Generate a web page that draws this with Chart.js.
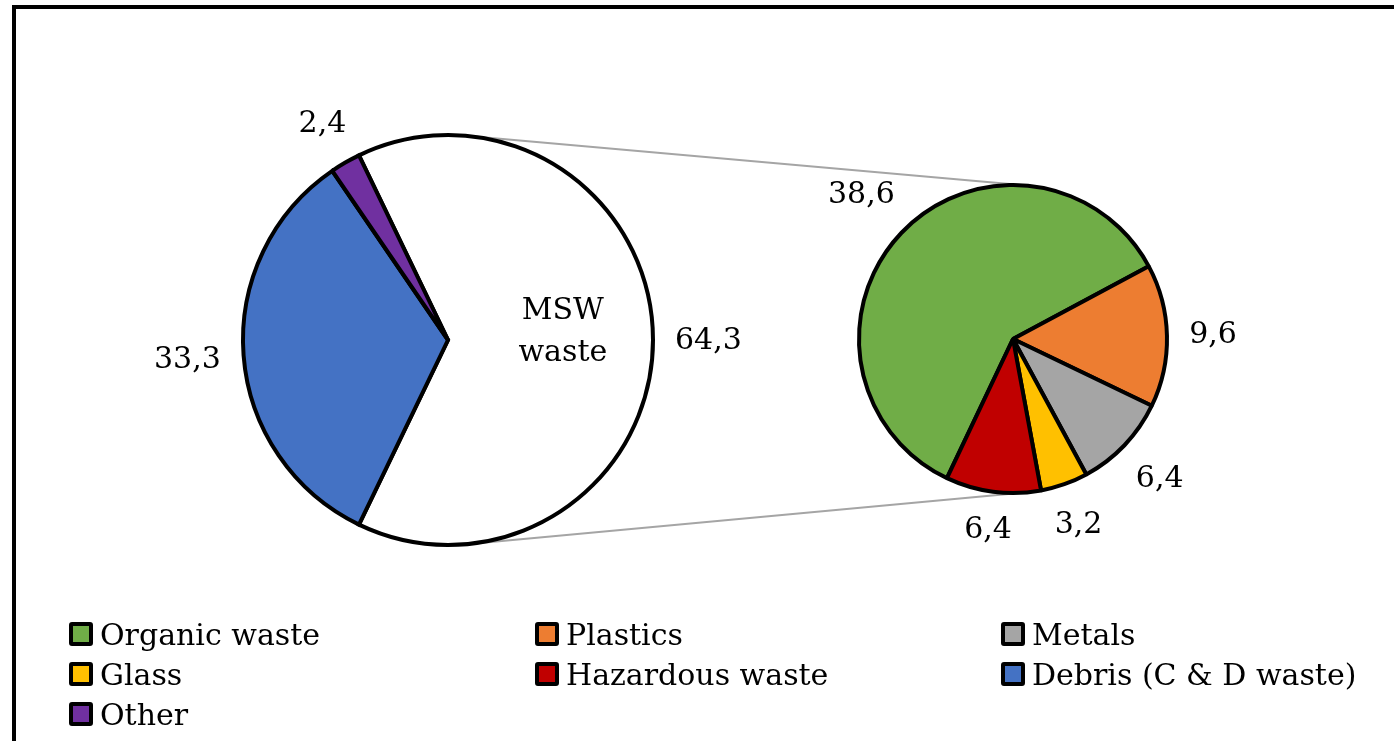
<!DOCTYPE html>
<html>
<head>
<meta charset="utf-8">
<script src="https://cdn.jsdelivr.net/npm/chart.js@4"></script>
<style>
    body { margin: 0; width: 1394px; height: 741px; overflow: hidden; position: relative; background: #fff; font-family: "DejaVu Serif", serif; }
    .frame { position: absolute; left: 12px; top: 5px; width: 1500px; height: 900px; border: 4px solid #000; }
    canvas { position: absolute; left: 0; top: 0; }
    #legend { position: absolute; left: 69px; top: 614px; display: grid; grid-template-columns: repeat(3, 466px); grid-auto-rows: 40px; font-size: 30px; color: #000; }
    #legend .item { display: flex; align-items: center; white-space: nowrap; }
    #legend .box { width: 16px; height: 16px; border: 4px solid #000; border-radius: 3px; margin-right: 7px; }
</style>
</head>
<body>
<div class="frame"></div>
<canvas id="mainPie" width="1394" height="741"></canvas>
<canvas id="mswPie" width="1394" height="741"></canvas>
<div id="legend"></div>
<script>
var mainLabels = ["MSW waste", "Debris (C & D waste)", "Other"];
var mainValues = [64.3, 33.3, 2.4];
var mainColors = ["#ffffff", "#4472c4", "#7030a0"];

var mswLabels = ["Organic waste", "Plastics", "Metals", "Glass", "Hazardous waste"];
var mswValues = [38.6, 9.6, 6.4, 3.2, 6.4];
var mswColors = ["#70ad47", "#ed7d31", "#a5a5a5", "#ffc000", "#c00000"];

var legendLabels = mswLabels.concat(mainLabels.slice(1));
var legendColors = mswColors.concat(mainColors.slice(1));

var FONT = '30px "DejaVu Serif"';
var W = 1394, H = 741, BW = 4;

function fmt(v) {
    return v.toFixed(1).replace('.', ',');
}

// padding so that the pie lands on a given centre / radius
function piePadding(cx, cy, r) {
    return {
        left: cx - r - BW / 2,
        right: W - (cx + r + BW / 2),
        top: cy - r - BW / 2,
        bottom: H - (cy + r + BW / 2)
    };
}

var valueLabels = {
    id: 'valueLabels',
    afterDatasetsDraw: function(chart, args, opts) {
        var ctx = chart.ctx;
        var meta = chart.getDatasetMeta(0);
        var values = chart.data.datasets[0].data;
        ctx.save();
        ctx.font = FONT;
        ctx.fillStyle = '#000';
        ctx.textAlign = 'center';
        ctx.textBaseline = 'alphabetic';
        meta.data.forEach(function(arc, i) {
            var mid = (arc.startAngle + arc.endAngle) / 2;
            var text = fmt(values[i]);
            var m = ctx.measureText(text);
            var h = m.actualBoundingBoxAscent + m.actualBoundingBoxDescent;
            var ext = Math.abs(Math.cos(mid)) * m.width / 2 + Math.abs(Math.sin(mid)) * h / 2;
            var d = arc.outerRadius + 22 + ext;
            var x = arc.x + Math.cos(mid) * d;
            var y = arc.y + Math.sin(mid) * d;
            ctx.fillText(text, x, y + (m.actualBoundingBoxAscent - m.actualBoundingBoxDescent) / 2);
        });
        if (opts.innerName) {
            var a = meta.data[0];
            var mid = (a.startAngle + a.endAngle) / 2;
            var px = a.x + Math.cos(mid) * a.outerRadius * 0.56;
            var py = a.y + Math.sin(mid) * a.outerRadius * 0.56;
            var words = chart.data.labels[0].split(' ');
            ctx.fillText(words[0], px, py - 21);
            ctx.fillText(words[1], px, py + 21);
        }
        ctx.restore();
    }
};

var mswChart = new Chart("mswPie", {
    type: "pie",
    data: {
        labels: mswLabels,
        datasets: [{
            data: mswValues,
            backgroundColor: mswColors,
            borderColor: "#000",
            borderWidth: BW,
            borderJoinStyle: "bevel",
            hoverOffset: 0
        }]
    },
    options: {
        responsive: false,
        animation: false,
        events: [],
        rotation: 205.4,
        layout: { padding: piePadding(1013, 339, 154) },
        plugins: {
            legend: { display: false },
            tooltip: { enabled: false },
            valueLabels: { innerName: false }
        }
    },
    plugins: [valueLabels]
});

// grey lines joining the two pies (outer tangents)
var connectors = {
    id: 'connectors',
    beforeDatasetsDraw: function(chart) {
        var a = chart.getDatasetMeta(0).data[0];
        var b = mswChart.getDatasetMeta(0).data[0];
        var dx = b.x - a.x, dy = b.y - a.y;
        var d = Math.sqrt(dx * dx + dy * dy);
        var ux = dx / d, uy = dy / d;
        var c = (a.outerRadius - b.outerRadius) / d;
        var s = Math.sqrt(1 - c * c);
        var ctx = chart.ctx;
        ctx.save();
        ctx.strokeStyle = '#a5a5a5';
        ctx.lineWidth = 2;
        [-1, 1].forEach(function(sign) {
            var nx = ux * c - uy * s * sign;
            var ny = uy * c + ux * s * sign;
            ctx.beginPath();
            ctx.moveTo(a.x + nx * a.outerRadius, a.y + ny * a.outerRadius);
            ctx.lineTo(b.x + nx * b.outerRadius, b.y + ny * b.outerRadius);
            ctx.stroke();
        });
        ctx.restore();
    }
};

var mainTotal = mainValues.reduce(function(s, v) { return s + v; }, 0);

new Chart("mainPie", {
    type: "pie",
    data: {
        labels: mainLabels,
        datasets: [{
            data: mainValues,
            backgroundColor: mainColors,
            borderColor: "#000",
            borderWidth: BW,
            borderJoinStyle: "miter",
            hoverOffset: 0
        }]
    },
    options: {
        responsive: false,
        animation: false,
        events: [],
        // first slice centred on the right side
        rotation: 90 - mainValues[0] / mainTotal * 180,
        layout: { padding: piePadding(448, 340, 205) },
        plugins: {
            legend: { display: false },
            tooltip: { enabled: false },
            valueLabels: { innerName: true }
        }
    },
    plugins: [connectors, valueLabels]
});

var legend = document.getElementById('legend');
legendLabels.forEach(function(label, i) {
    var item = document.createElement('div');
    item.className = 'item';
    item.innerHTML = '<span class="box" style="background:' + legendColors[i] + '"></span>' + label;
    legend.appendChild(item);
});
</script>
</body>
</html>
